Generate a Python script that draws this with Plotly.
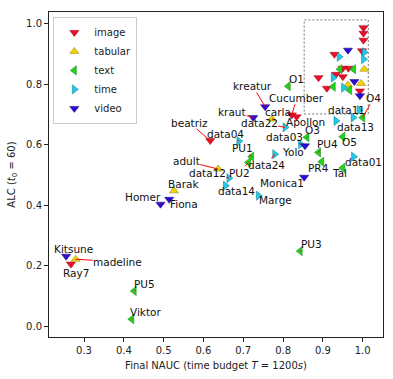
import plotly.graph_objects as go

# ---------------- data ----------------
image_names = ["Ray7", "beatriz", "Cucumber", "Apollon", "", "", "", "", "", "", "", "", "", "", "", ""]
image_x = [0.267, 0.617, 0.822, 0.834, 1.002, 1.002, 1.002, 0.998, 0.929, 0.964, 0.950, 0.889, 0.933, 0.950, 0.910, 0.993]
image_y = [0.205, 0.613, 0.698, 0.692, 0.986, 0.968, 0.945, 0.910, 0.898, 0.852, 0.852, 0.821, 0.832, 0.824, 0.786, 0.777]

tabular_names = ["madeline", "Barak", "adult", "carla", "", "", ""]
tabular_x = [0.279, 0.526, 0.637, 0.772, 1.004, 0.996, 0.963]
tabular_y = [0.221, 0.447, 0.519, 0.684, 0.849, 0.802, 0.797]

text_names = ["PU5", "Viktor", "PU3", "PU2", "PU1", "O1", "O3", "PU4", "PR4", "Tal", "O5", "O4", "", "", "", ""]
text_x = [0.426, 0.420, 0.843, 0.713, 0.721, 0.813, 0.860, 0.889, 0.897, 0.950, 0.950, 1.000, 0.977, 0.943, 0.926, 0.967]
text_y = [0.116, 0.023, 0.248, 0.541, 0.560, 0.793, 0.624, 0.574, 0.543, 0.523, 0.626, 0.689, 0.849, 0.849, 0.791, 0.780]

time_names = ["data14", "data12", "Marge", "data04", "data24", "data22", "data03", "data01", "data13", "data11", "", "", "", "", "", ""]
time_x = [0.655, 0.664, 0.738, 0.689, 0.779, 0.805, 0.844, 0.977, 0.933, 0.991, 0.976, 1.004, 1.002, 0.941, 0.926, 0.952]
time_y = [0.464, 0.489, 0.431, 0.611, 0.568, 0.657, 0.601, 0.560, 0.678, 0.714, 0.689, 0.905, 0.882, 0.890, 0.821, 0.788]

video_names = ["Kitsune", "Homer", "Fiona", "Monica1", "kraut", "kreatur", "Yolo", "", "", ""]
video_x = [0.255, 0.492, 0.514, 0.853, 0.725, 0.755, 0.855, 0.963, 0.979, 0.993]
video_y = [0.231, 0.403, 0.419, 0.492, 0.689, 0.725, 0.596, 0.912, 0.808, 0.761]

x_ticks = [0.3, 0.4, 0.5, 0.6, 0.7, 0.8, 0.9, 1.0]
y_ticks = [0.0, 0.2, 0.4, 0.6, 0.8, 1.0]

# ---------------- styling / layout ----------------
FONT = "DejaVu Sans"
domains = [
    ("image", image_names, image_x, image_y, "triangle-down", "#e8102a", "#a00010"),
    ("tabular", tabular_names, tabular_x, tabular_y, "triangle-up", "#f2d400", "#8a7a00"),
    ("text", text_names, text_x, text_y, "triangle-left", "#1ed41e", "#0a800a"),
    ("time", time_names, time_x, time_y, "triangle-right", "#22c8e6", "#0a7f95"),
    ("video", video_names, video_x, video_y, "triangle-down", "#2a0ad8", "#14067a"),
]

# label offsets (pixels, text centre relative to marker)
label_offsets = {
    "Kitsune": (7.5, -7), "Ray7": (5.5, 9), "madeline": (42, 2.5), "PU5": (10, -7.5),
    "Viktor": (14, -7), "PU3": (11, -7), "Homer": (-17, -7), "Fiona": (14.5, 5),
    "Barak": (9.5, -6.5), "data14": (11, 5.5), "data12": (-21.5, -5.3), "PU2": (-9.3, 10.4),
    "adult": (-32, -8), "Marge": (17, 4.3), "Monica1": (-22, 6), "beatriz": (-21, -18),
    "data04": (-13.7, -7.3), "PU1": (-9, -8.7), "data24": (-8.5, 10.7), "Yolo": (-11.5, 6),
    "data03": (-15.7, -7.3), "O3": (5.3, -7.3), "PU4": (9, -8.3), "PR4": (-3, 6),
    "Tal": (-3.7, 5.3), "data01": (10, 5.3), "O5": (6.5, 5), "data13": (19, 5.7),
    "data11": (-13, 0), "O4": (11, -19.7), "O1": (8, -7), "Cucumber": (5, -17),
    "Apollon": (9, 5), "carla": (6, -7.3), "kraut": (-21, -6), "data22": (-26, -4.3),
    "kreatur": (-12.5, -20.7),
}

fig = go.Figure()
annotations = []
for name, names, xs, ys, sym, col, edge in domains:
    fig.add_trace(go.Scatter(
        x=xs, y=ys, mode="markers", name=name,
        marker=dict(symbol=sym, size=8, color=col, line=dict(color=edge, width=0.5)),
    ))
    for n, xv, yv in zip(names, xs, ys):
        if not n:
            continue
        ax, ay = label_offsets.get(n, (8, -8))
        annotations.append(dict(
            x=xv, y=yv, xref="x", yref="y", text=n, showarrow=True,
            ax=ax, ay=ay, axref="pixel", ayref="pixel",
            arrowhead=0, arrowwidth=1, arrowcolor="red", standoff=0, startstandoff=0,
            borderpad=0,
            font=dict(family=FONT, size=10.5, color="#111"),
        ))

fig.add_shape(type="rect", x0=0.853, x1=1.014, y0=0.701, y1=1.012, xref="x", yref="y",
              line=dict(color="#555", width=0.8, dash="2px,2px"), layer="below")

axis_common = dict(
    showgrid=False, zeroline=False, showline=True, linecolor="#222", linewidth=1,
    mirror=True, ticks="outside", ticklen=4, tickcolor="#222", tickwidth=1,
    tickfont=dict(family=FONT, size=10, color="#222"), automargin=False,
)
fig.update_layout(
    width=393, height=379,
    margin=dict(l=49, r=10, t=12, b=42),
    paper_bgcolor="white", plot_bgcolor="white",
    font=dict(family=FONT, size=10, color="#222"),
    xaxis=dict(range=[0.212, 1.051], tickvals=x_ticks, ticktext=[f"{v:.1f}" for v in x_ticks],
               title=dict(text="Final NAUC (time budget <i>T</i> = 1200<i>s</i>)",
                          font=dict(family=FONT, size=10, color="#222"), standoff=6),
               **axis_common),
    yaxis=dict(range=[-0.036, 1.038], tickvals=y_ticks, ticktext=[f"{v:.1f}" for v in y_ticks],
               title=dict(text="ALC (<i>t</i><sub>0</sub> = 60)",
                          font=dict(family=FONT, size=10, color="#222"), standoff=8),
               **axis_common),
    legend=dict(x=0.013, y=0.985, xanchor="left", yanchor="top",
                bgcolor="rgba(255,255,255,0.8)", bordercolor="#ccc", borderwidth=1,
                font=dict(family=FONT, size=10, color="#222"), tracegroupgap=0),
    annotations=annotations,
    showlegend=True,
)

fig.write_html("out.html", config={"displayModeBar": False},
               post_script="document.body.style.margin='0';document.body.style.overflow='hidden';")
